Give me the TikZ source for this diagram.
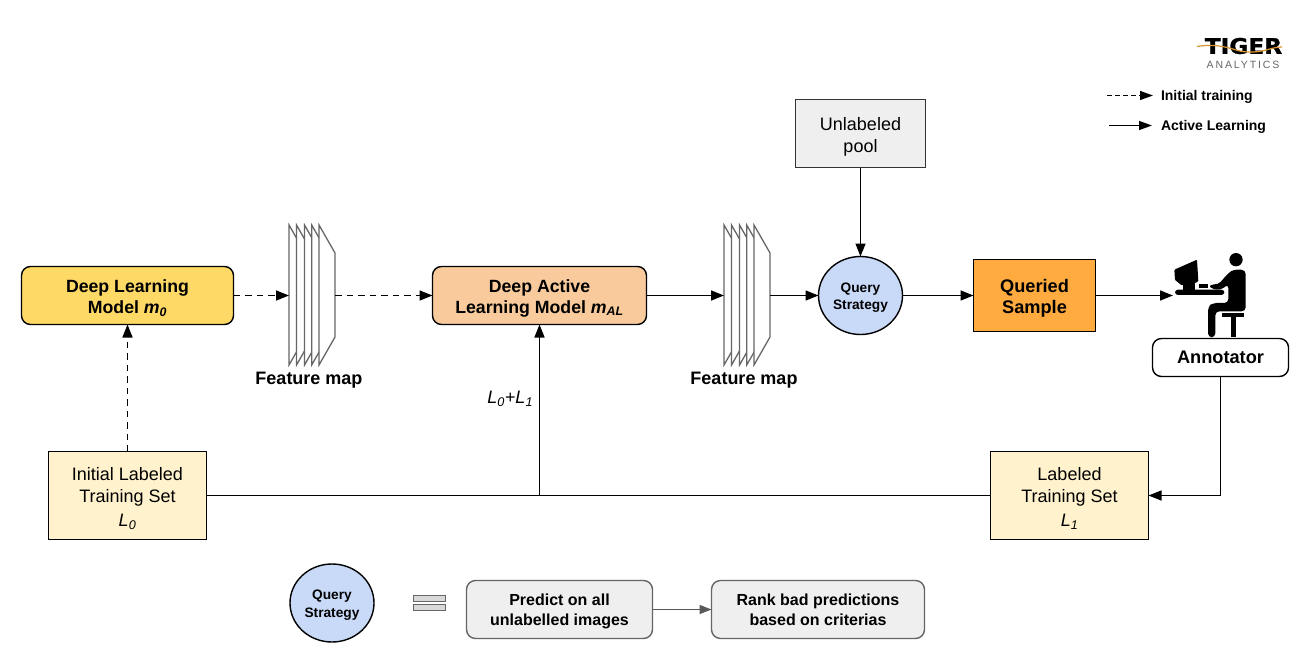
\documentclass[tikz,border=0pt]{standalone}
\usepackage{fontspec}
\setmainfont{Liberation Sans}
\newfontfamily\logofont[BoldFeatures={FakeBold=1.2}]{DejaVu Sans}
\usetikzlibrary{arrows.meta,shapes.geometric}
\newcommand{\fs}[1]{\fontsize{#1}{#1}\selectfont}
\newcommand{\dn}[1]{\rule{0pt}{#1pt}}
\newcommand{\featuresheets}[1]{%
  \foreach \d in {0,7.5,15.5,22.7,30}{
    \draw[sheet] ({#1+\d},225) -- ({#1+\d+16},253) -- ({#1+\d+16},337) -- ({#1+\d},365) -- cycle;
  }}
\tikzset{
  x=1pt,y=-1pt,
  every node/.style={inner sep=0pt,outer sep=0pt,align=center,text=black},
  conn/.style={line width=1.5pt,-{Triangle[length=13pt,width=10pt]}},
  plainconn/.style={line width=1.5pt},
  dashconn/.style={conn,dash pattern=on 6.5pt off 5pt},
  sheet/.style={draw=black!60,fill=white,line width=1.3pt,line join=miter},
  model/.style={draw=black,line width=1.4pt,rounded corners=9pt,font=\bfseries\fs{17.7}},
  plainbox/.style={draw=black,line width=1.4pt,font=\fs{18}},
  grayround/.style={draw=black!60,fill=boxgray,line width=1.4pt,rounded corners=9pt,font=\bfseries\fs{16}},
  qcircle/.style={ellipse,draw=black,fill=qblue,line width=1.4pt,minimum width=84pt,minimum height=78pt,font=\bfseries\fs{13.7}},
  flabel/.style={font=\bfseries\fs{18}},
  legend/.style={font=\bfseries\fs{14},anchor=west},
  ghost/.style={draw=none,fill=none}
}
\definecolor{boxgray}{HTML}{EFEFEF}
\definecolor{qblue}{HTML}{C9DAF8}
\definecolor{dlyellow}{HTML}{FFD966}
\definecolor{alpeach}{HTML}{F9CB9C}
\definecolor{qorange}{HTML}{FFAB40}
\definecolor{setcream}{HTML}{FFF2CC}
\definecolor{wave}{HTML}{D9942F}
\begin{document}
\begin{tikzpicture}
\useasboundingbox (0,0) rectangle (1311,669);
\fill[white] (0,0) rectangle (1311,669);

% boxes
\node[model,fill=dlyellow,minimum width=212pt,minimum height=58pt] (dl) at (127.5,295.5) {\dn{18}Deep Learning\\[3.5pt]Model \textit{m\textsubscript{0}}};
\node[model,fill=alpeach,minimum width=214pt,minimum height=58pt] (al) at (539.5,295.5) {\dn{18}Deep Active\\[3.5pt]Learning Model \textit{m\textsubscript{AL}}};
\node[plainbox,draw=black!80,fill=boxgray,minimum width=130pt,minimum height=68pt] (pool) at (860.5,133.5) {\dn{19}Unlabeled\\[4pt]pool};
\node[qcircle] (qs) at (860.5,295.5) {\dn{14}Query\\[3.5pt]Strategy};
\node[draw=black,line width=1.4pt,fill=qorange,minimum width=122pt,minimum height=72pt,font=\bfseries\fs{18.2}] (qsample) at (1034.5,295.5) {\dn{19}Queried\\[3.5pt]Sample};
\node[model,fill=white,minimum width=136pt,minimum height=38pt,font=\bfseries\fs{18.2}] (annot) at (1220.5,357.5) {Annotator};
\node[plainbox,fill=setcream,minimum width=158pt,minimum height=88pt] (init) at (127.5,495.5) {\dn{18.5}Initial Labeled\\[4pt]Training Set\\[6pt]\textit{L\textsubscript{0}}};
\node[plainbox,fill=setcream,minimum width=158pt,minimum height=88pt] (lab) at (1069.5,495.5) {\dn{18.5}Labeled\\[4pt]Training Set\\[6pt]\textit{L\textsubscript{1}}};

% feature maps
\featuresheets{289}
\featuresheets{724}
\node[ghost,minimum width=46pt,minimum height=140pt] (fm1) at (312,295) {};
\node[ghost,minimum width=46pt,minimum height=140pt] (fm2) at (747,295) {};
\node[flabel] (fl1) at (309,380) {Feature map};
\node[flabel] (fl2) at (744,380) {Feature map};

% annotator icon
\node[ghost,minimum width=116pt,minimum height=84pt] (icon) at (1231,295) {};
\begin{scope}[shift={(1165,248)},x=0.3333pt,y=-0.3333pt]
  \fill[black] (213,35) circle[radius=20];
  \fill[black,rounded corners=4pt] (207,64) -- (242,66) -- (242,190) -- (151,190) -- (151,268) -- (129,268) -- (129,176) -- (143,165) -- (190,165) -- (190,108) -- (168,126) -- (135,122) -- (135,108) -- (160,110) -- (190,75) -- cycle;
  \fill[black] (172,195) rectangle (238,208);
  \fill[black] (198,208) rectangle (212,268);
  \fill[black,rounded corners=3pt] (30,125) rectangle (178,141);
  \fill[black] (103,108) rectangle (130,120);
  \fill[black] (55,100) rectangle (90,125);
  \fill[black,rounded corners=1pt] (28,65) -- (96,35) -- (100,100) -- (85,108) -- (50,112) -- (30,96) -- cycle;
\end{scope}

% connectors
\draw[dashconn] (dl.east) -- (fm1.west |- dl.east);
\draw[dashconn] (fm1.east |- dl.east) -- (al.west);
\draw[dashconn] (init.north) -- (dl.south);
\draw[conn] (al.east) -- (fm2.west |- al.east);
\draw[conn] (fm2.east |- qs.west) -- (qs.west);
\draw[conn] (pool.south) -- (qs.north);
\draw[conn] (qs.east) -- (qsample.west);
\draw[conn] (qsample.east) -- (icon.west |- qsample.east);
\draw[conn] (annot.south) -- (annot.south |- lab.east) -- (lab.east);
\coordinate (join) at (al.south |- lab.west);
\draw[plainconn] (init.east) -- (join);
\draw[conn] (lab.west) -- (join) -- (al.south);
\node[font=\itshape\fs{18},anchor=east] (l01) at (533,399) {L\textsubscript{0}+L\textsubscript{1}};

% legend
\coordinate (ld1) at (1107,95.5);
\coordinate (ld1e) at (1153,95.5);
\coordinate (ld2) at (1109,125.5);
\coordinate (ld2e) at (1152,125.5);
\node[legend] (li) at (1161,97) {Initial training};
\node[legend] (la) at (1161,127) {Active Learning};
\draw[line width=1.3pt,dash pattern=on 4.5pt off 3.5pt,-{Triangle[length=13pt,width=9pt]}] (ld1) -- (ld1e);
\draw[line width=1.3pt,-{Triangle[length=13pt,width=9pt]}] (ld2) -- (ld2e);

% logo
\node[font=\logofont\bfseries\fs{21.5}] (tiger) at (1243.5,46) {\scalebox{1.08}[1]{TIGER}};
\draw[wave,line width=1.2pt] (1197,46.5) .. controls (1212,44) and (1222,46) .. (1233,49) .. controls (1243,53) and (1256,53) .. (1268,49.5) .. controls (1273,48) and (1278,47) .. (1282,47);
\node[font=\addfontfeature{LetterSpace=18}\fs{10.5},text=black!60] (analytics) at (1243,65) {ANALYTICS};

% bottom row
\node[qcircle] (qs2) at (332,603) {\dn{14}Query\\[3.5pt]Strategy};
\node[draw=black!60,fill=black!15,line width=1.2pt,minimum width=32pt,minimum height=6pt] (eq1) at (429.5,598.5) {};
\node[draw=black!60,fill=black!15,line width=1.2pt,minimum width=32pt,minimum height=6pt] (eq2) at (429.5,607.5) {};
\node[grayround,minimum width=186pt,minimum height=58pt] (pred) at (559.5,609.5) {\dn{15.5}Predict on all\\[4pt]unlabelled images};
\node[grayround,minimum width=213pt,minimum height=58pt] (rank) at (818,609.5) {\dn{12}Rank bad predictions\\[4pt]based on criterias};
\draw[line width=1.4pt,draw=black!65,-{Triangle[length=12pt,width=9pt,fill=black!65]}] (pred) -- (rank);
\end{tikzpicture}
\end{document}
